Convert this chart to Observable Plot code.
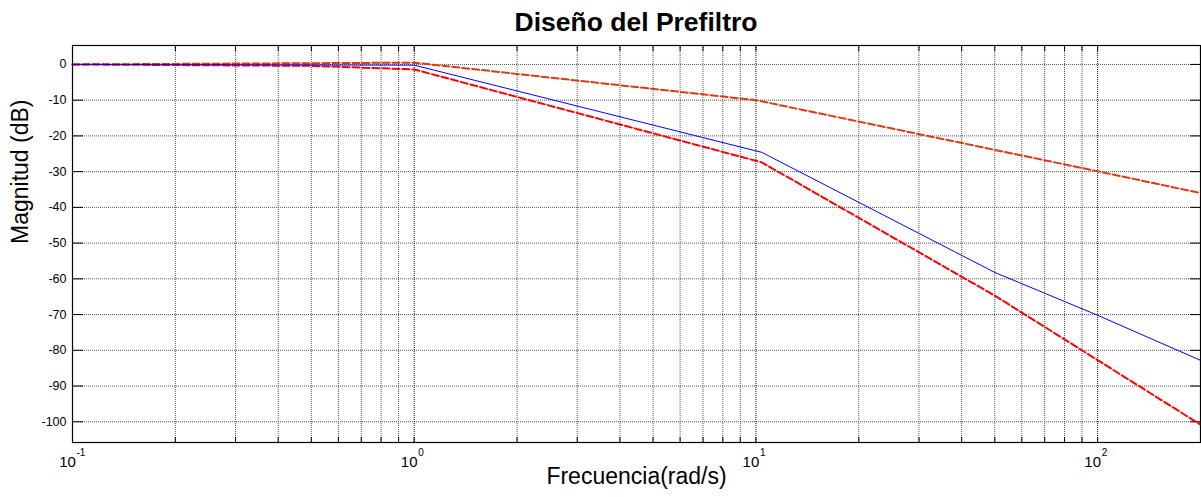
<!DOCTYPE html>
<html>
<head>
<meta charset="utf-8">
<script src="https://cdn.jsdelivr.net/npm/d3@7"></script>
<script src="https://cdn.jsdelivr.net/npm/@observablehq/plot@0.6"></script>
<style>
  body { margin: 0; background: #fff; font-family: "Liberation Sans", Arial, sans-serif; }
  #wrap { position: relative; width: 1201px; height: 497px; }
  #title { position: absolute; left: 72px; width: 1128px; top: 7px; text-align: center;
           font-weight: bold; font-size: 26.5px; line-height: 30px; color: #000; }
</style>
</head>
<body>
<div id="wrap">
  <div id="title">Diseño del Prefiltro</div>
  <div id="chart"></div>
</div>
<script>
// Series
const freqBlue = [0.1, 1, 10.4, 50, 100, 200];
const magBlue  = [0, -0.2, -24.6, -58.2, -70.2, -82.8];

const freqRed = [0.1, 0.5, 1, 10.4, 50, 200];
const magRed  = [0, -0.4, -1.4, -27.4, -64.7, -100.8];

const freqOrange = [0.1, 1, 10, 100, 200];
const magOrange  = [0, 0.5, -10, -29.9, -36];

const yTicks = [-100, -90, -80, -70, -60, -50, -40, -30, -20, -10, 0];
const decadeTicks = [0.1, 1, 10, 100];
const decadeExponents = ["-1", "0", "1", "2"];
const minorTicks = [0.2,0.3,0.4,0.5,0.6,0.7,0.8,0.9, 2,3,4,5,6,7,8,9, 20,30,40,50,60,70,80,90, 200];

const toRows = (fs, ms) => fs.map((f, i) => ({f, m: ms[i]}));
const blue = toRows(freqBlue, magBlue);
const red = toRows(freqRed, magRed);
const orange = toRows(freqOrange, magOrange);
const decades = decadeTicks.map((v, i) => ({v, e: decadeExponents[i]}));

const font = "Liberation Sans, Arial, sans-serif";

const chart = Plot.plot({
  width: 1201,
  height: 497,
  marginLeft: 72,
  marginRight: 1,
  marginTop: 45,
  marginBottom: 55,
  style: {fontFamily: font, fontSize: "12px", color: "#000", background: "#fff"},
  x: {type: "log", domain: [0.1, 200]},
  y: {domain: [-105.8, 5.3]},
  marks: [
    // grid
    Plot.ruleY(yTicks, {stroke: "#555", strokeDasharray: "1,1"}),
    Plot.ruleX(minorTicks.filter(d => d < 200), {stroke: "#555", strokeDasharray: "1,1"}),
    Plot.ruleX(decadeTicks, {stroke: "#111", strokeDasharray: "1,1"}),
    // axes (ticks inward)
    Plot.axisY({anchor: "left", ticks: yTicks, tickSize: 0, tickPadding: 6, label: null, fontSize: 12.5, tickFormat: d => String(d)}),
    Plot.axisY({anchor: "left", ticks: yTicks, tickSize: -11, text: null, label: null}),
    Plot.axisY({anchor: "right", ticks: yTicks, tickSize: -11, text: null, label: null}),
    Plot.axisX({anchor: "bottom", ticks: decadeTicks.concat(minorTicks), tickSize: -5, text: null, label: null}),
    Plot.axisX({anchor: "top", ticks: decadeTicks.concat(minorTicks), tickSize: -5, text: null, label: null}),
    // decade labels 10^n
    Plot.text(decades, {x: "v", frameAnchor: "bottom", text: () => "10", dy: 24, dx: -5, fontSize: 15}),
    Plot.text(decades, {x: "v", frameAnchor: "bottom", text: "e", dy: 13, dx: 4, textAnchor: "start", fontSize: 10}),
    // axis labels
    Plot.text(["Frecuencia(rad/s)"], {frameAnchor: "bottom", dy: 41, fontSize: 23, text: d => d}),
    Plot.text(["Magnitud (dB)"], {frameAnchor: "left", dx: -52, rotate: -90, fontSize: 23, text: d => d}),
    // lines
    Plot.line(orange, {x: "f", y: "m", stroke: "#dc3a14", strokeWidth: 2, strokeDasharray: "7,3"}),
    Plot.line(red, {x: "f", y: "m", stroke: "#ff0000", strokeWidth: 2, strokeDasharray: "7,3"}),
    Plot.line(blue, {x: "f", y: "m", stroke: "#0000ff", strokeWidth: 1}),
    Plot.frame({stroke: "#000", strokeWidth: 1.2})
  ]
});
document.getElementById("chart").appendChild(chart);
</script>
</body>
</html>
